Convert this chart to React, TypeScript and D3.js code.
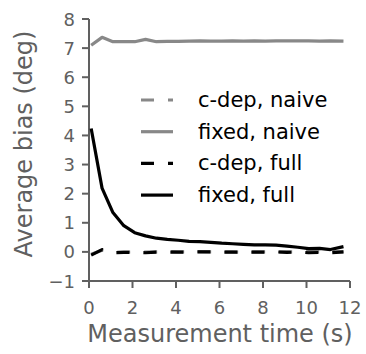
import React from "react";
import * as d3 from "d3";

const times = [0.1, 0.6, 1.1, 1.6, 2.1, 2.6, 3.1, 3.6, 4.1, 4.6, 5.1, 5.6, 6.1, 6.6, 7.1, 7.6, 8.1, 8.6, 9.1, 9.6, 10.1, 10.6, 11.1, 11.7];
const fixedNaive = [7.1, 7.37, 7.22, 7.22, 7.22, 7.3, 7.22, 7.23, 7.23, 7.24, 7.25, 7.24, 7.24, 7.25, 7.24, 7.25, 7.24, 7.25, 7.25, 7.25, 7.25, 7.24, 7.25, 7.24];
const cdepNaive = [-0.08, 0.06, -0.02, -0.01, 0.0, -0.01, 0.0, 0.01, 0.0, 0.0, 0.01, 0.0, 0.0, 0.0, -0.01, 0.0, 0.0, 0.0, 0.0, 0.0, 0.01, 0.0, 0.0, 0.0];
const fixedFull = [4.24, 2.19, 1.35, 0.9, 0.66, 0.55, 0.47, 0.43, 0.4, 0.36, 0.35, 0.33, 0.3, 0.28, 0.26, 0.24, 0.24, 0.23, 0.2, 0.16, 0.11, 0.12, 0.08, 0.18];
const cdepFull = [-0.11, 0.08, -0.03, -0.02, -0.02, -0.03, -0.01, -0.01, -0.01, -0.01, 0.0, 0.0, -0.01, -0.01, -0.01, -0.01, -0.01, 0.0, -0.02, 0.0, -0.03, -0.02, -0.03, 0.0];
const xTicks = [0, 2, 4, 6, 8, 10, 12];
const yTicks = [-1, 0, 1, 2, 3, 4, 5, 6, 7, 8];
const legendLabels = ["c-dep, naive", "fixed, naive", "c-dep, full", "fixed, full"];

const GRAY = "#888888";
const AXIS = "#606060";
const FONT = "DejaVu Sans, sans-serif";

export default function App() {
  const x = d3.scaleLinear().domain([0, 12]).range([89, 350]);
  const y = d3.scaleLinear().domain([-1, 8]).range([281, 19]);
  const line = d3
    .line<number>()
    .x((_, i) => x(times[i]))
    .y((d) => y(d));

  const series = [
    { data: cdepNaive, color: GRAY, dash: "13,14" },
    { data: fixedNaive, color: GRAY, dash: null },
    { data: cdepFull, color: "#000", dash: "13,14" },
    { data: fixedFull, color: "#000", dash: null },
  ];

  return (
    <div style={{ position: "absolute", left: 0, top: 0 }}>
      <svg width={366} height={354} style={{ display: "block", background: "#fff" }} fontFamily={FONT}>
        <line x1={x(0)} x2={x(0)} y1={y(-1)} y2={y(8)} stroke={AXIS} strokeWidth={2} />
        <line x1={x(0)} x2={x(12)} y1={y(-1)} y2={y(-1)} stroke={AXIS} strokeWidth={2} />
        {yTicks.map((t) => (
          <g key={"y" + t}>
            <line x1={x(0) - 7} x2={x(0)} y1={y(t)} y2={y(t)} stroke={AXIS} strokeWidth={2} />
            <text x={75} y={y(t)} textAnchor="end" dominantBaseline="central" fontSize={18} fill={AXIS}>
              {t < 0 ? "\u2212" + Math.abs(t) : t}
            </text>
          </g>
        ))}
        {xTicks.map((t) => (
          <g key={"x" + t}>
            <line x1={x(t)} x2={x(t)} y1={y(-1)} y2={y(-1) + 7} stroke={AXIS} strokeWidth={2} />
            <text x={x(t)} y={314} textAnchor="middle" fontSize={18} fill={AXIS}>
              {t}
            </text>
          </g>
        ))}
        <text x={220} y={342} textAnchor="middle" fontSize={24} fill={AXIS}>
          Measurement time (s)
        </text>
        <text transform="translate(32,144) rotate(-90)" textAnchor="middle" fontSize={24} fill={AXIS}>
          Average bias (deg)
        </text>
        {series.map((s, i) => (
          <path
            key={"s" + i}
            d={line(s.data) || ""}
            fill="none"
            stroke={s.color}
            strokeWidth={3.2}
            strokeDasharray={s.dash || undefined}
            strokeLinejoin="round"
          />
        ))}
        {series.map((s, i) => {
          const ly = 100 + i * 31.7;
          return (
            <g key={"l" + i}>
              <line x1={141} x2={173} y1={ly} y2={ly} stroke={s.color} strokeWidth={3.2} strokeDasharray={s.dash || undefined} />
              <text x={198} y={ly} dominantBaseline="central" fontSize={21} fill="#000">
                {legendLabels[i]}
              </text>
            </g>
          );
        })}
      </svg>
    </div>
  );
}
